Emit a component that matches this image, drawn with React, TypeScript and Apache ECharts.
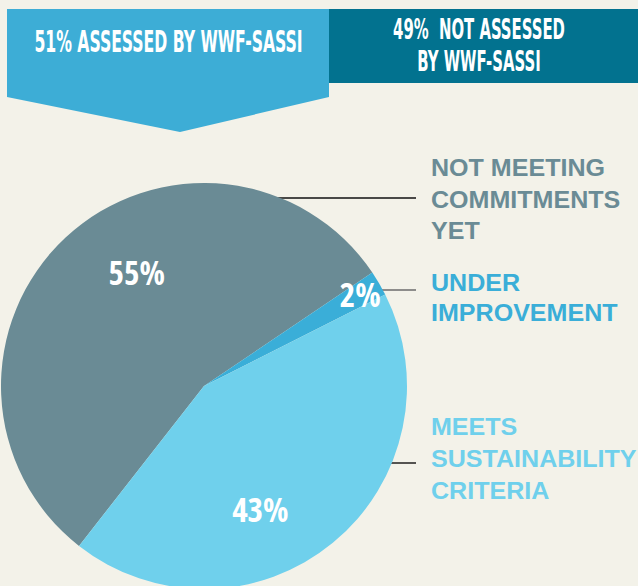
import React, { useEffect, useRef } from "react";
import * as echarts from "echarts";

const categories = ["Not meeting commitments yet", "Under improvement", "Meets sustainability criteria"];
const values = [55, 2, 43];
const sliceColors = ["#6a8b95", "#3aaed8", "#6fd0ec"];
const labelLines = [
  ["NOT MEETING", "COMMITMENTS", "YET"],
  ["UNDER", "IMPROVEMENT"],
  ["MEETS", "SUSTAINABILITY", "CRITERIA"],
];
const assessedShare = 51;
const notAssessedShare = 49;

const NARROW = "'DejaVu Sans Condensed', 'DejaVu Sans', sans-serif";
const WIDE = "'Liberation Sans', Arial, sans-serif";

export default function App() {
  const ref = useRef<HTMLDivElement>(null);
  useEffect(() => {
    if (!ref.current) return;
    const chart = echarts.init(ref.current, null, { renderer: "svg" });
    const labelOffsets = [
      [4, -37],
      [66, -39],
      [-10, 43],
    ];
    const annot = [
      { x: 431, cy: 199.5, lh: 31.5, color: sliceColors[0] },
      { x: 431, cy: 298, lh: 29.5, color: sliceColors[1] },
      { x: 431, cy: 459, lh: 32, color: sliceColors[2] },
    ];
    const leaders = [
      { x1: 272, x2: 416, y: 198, color: "#111" },
      { x1: 378, x2: 416, y: 290, color: "#6b6b6b" },
      { x1: 389, x2: 416, y: 463, color: "#111" },
    ];
    const graphic: any[] = [
      {
        type: "polygon",
        shape: { points: [[7, 9], [329, 9], [329, 97], [180, 132], [7, 97]] },
        style: { fill: "#3dadd6" },
        z: 1,
      },
      { type: "rect", shape: { x: 329, y: 9, width: 309, height: 74 }, style: { fill: "#02728f" }, z: 1 },
      {
        type: "text",
        x: 168.5,
        y: 42,
        scaleX: 0.58,
        style: {
          text: `${assessedShare}% ASSESSED BY WWF-SASSI`,
          fill: "#ffffff",
          font: `bold 30px ${NARROW}`,
          align: "center",
          verticalAlign: "middle",
        },
        z: 2,
      },
      {
        type: "text",
        x: 479,
        y: 45,
        scaleX: 0.57,
        style: {
          text: `${notAssessedShare}%  NOT ASSESSED\nBY WWF-SASSI`,
          fill: "#ffffff",
          font: `bold 29px ${NARROW}`,
          lineHeight: 32,
          align: "center",
          verticalAlign: "middle",
        },
        z: 2,
      },
    ];
    annot.forEach((a, i) => {
      graphic.push({
        type: "text",
        x: a.x,
        y: a.cy,
        scaleX: 1.09,
        style: {
          text: labelLines[i].join("\n"),
          fill: a.color,
          font: `bold 23px ${WIDE}`,
          lineHeight: a.lh,
          align: "left",
          verticalAlign: "middle",
        },
        z: 2,
      });
    });
    leaders.forEach((l) => {
      graphic.push({
        type: "line",
        shape: { x1: l.x1, y1: l.y, x2: l.x2, y2: l.y },
        style: { stroke: l.color, lineWidth: 1.4 },
        z: 2,
      });
    });

    chart.setOption({
      animation: false,
      backgroundColor: "#f3f2e9",
      graphic,
      series: [
        {
          type: "pie",
          center: [204, 386],
          radius: 203,
          startAngle: 232,
          clockwise: true,
          silent: true,
          itemStyle: { borderWidth: 0 },
          label: {
            show: true,
            position: "inside",
            formatter: "{c}%",
            color: "#ffffff",
            fontFamily: "Open Sans",
            fontWeight: "bold",
            fontSize: 33,
          },
          labelLine: { show: false },
          labelLayout: (p: any) => ({ dx: labelOffsets[p.dataIndex][0], dy: labelOffsets[p.dataIndex][1] }),
          data: categories.map((name, i) => ({ name, value: values[i], itemStyle: { color: sliceColors[i] } })),
        },
      ],
    });
    return () => chart.dispose();
  }, []);
  return (
    <>
      <style>{`text[style*="Open Sans"] { font-stretch: 75%; }`}</style>
      <div ref={ref} style={{ position: "fixed", left: 0, top: 0, width: 638, height: 586 }} />
    </>
  );
}
